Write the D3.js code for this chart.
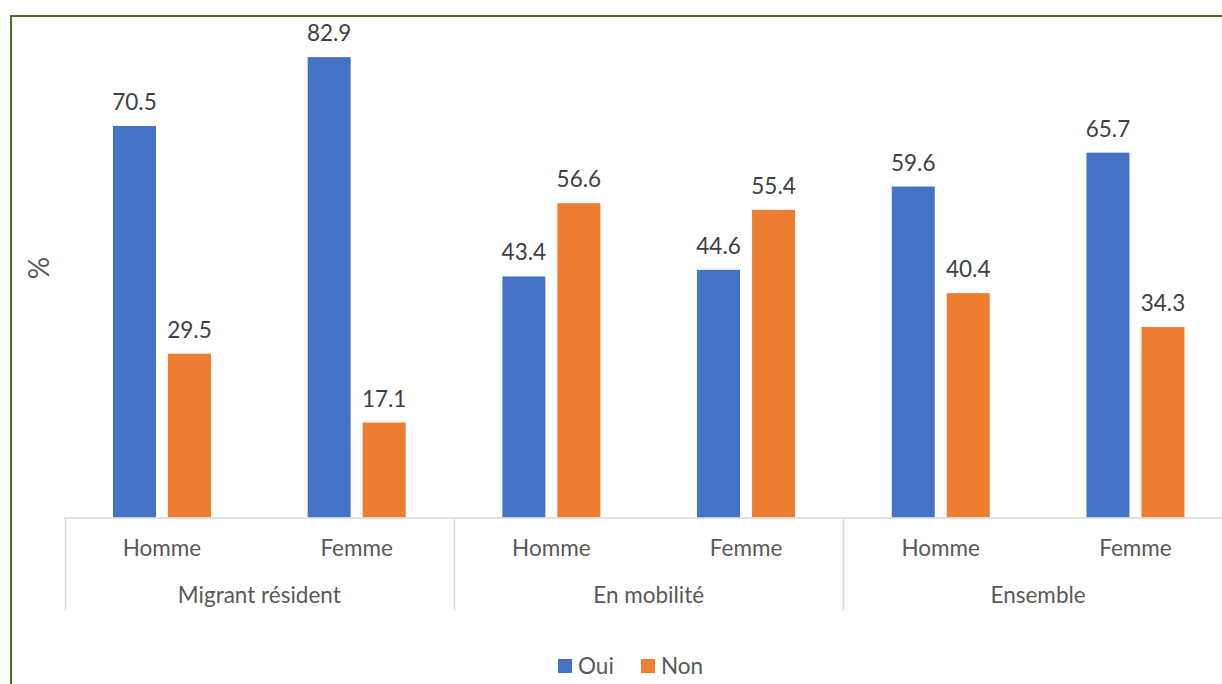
<!DOCTYPE html>
<html>
<head>
<meta charset="utf-8">
<script src="https://cdn.jsdelivr.net/npm/d3@7"></script>
<style>
  html, body { margin: 0; padding: 0; background: #ffffff; }
  svg { display: block; font-family: Lato, "Liberation Sans", sans-serif; }
</style>
</head>
<body>
<svg id="chart" width="1222" height="684"></svg>
<script>
// Groups and sub-categories along the x axis
const groups = ["Migrant résident", "En mobilité", "Ensemble"];
const sexes = ["Homme", "Femme"];
const seriesNames = ["Oui", "Non"];
// Percentages per bar, in order: group × sex
const oui = [70.5, 82.9, 43.4, 44.6, 59.6, 65.7];
const non = [29.5, 17.1, 56.6, 55.4, 40.4, 34.3];
const colors = ["#4472C4", "#ED7D31"];

const svg = d3.select("#chart");
const W = 1222, H = 684;
const fs = 22.5;

// Outer frame (runs past the right and bottom edges)
svg.append("path")
  .attr("d", `M11,${H + 5} L11,16 L${W + 5},16`)
  .attr("fill", "none")
  .attr("stroke", "#4d6d2b")
  .attr("stroke-width", 2);

const plotLeft = 64.6, plotRight = 1232.8, baseY = 517.5;
const cats = [];
groups.forEach(g => sexes.forEach(s => cats.push(g + "|" + s)));

const x0 = d3.scaleBand().domain(cats).range([plotLeft, plotRight]).paddingInner(0).paddingOuter(0);
const y = d3.scaleLinear().domain([0, 90]).range([baseY, baseY - 90 * 5.553]);

// Two bars per category: 43px each, 12px apart, centred
const barW = 43, gap = 12;
const x1 = d3.scaleOrdinal().domain(seriesNames).range([-(barW + gap / 2), gap / 2]);

const data = cats.map((c, i) => ({ cat: c, values: [
  { s: "Oui", v: oui[i] }, { s: "Non", v: non[i] } ] }));

const catG = svg.selectAll("g.cat").data(data).join("g")
  .attr("class", "cat")
  .attr("transform", d => `translate(${x0(d.cat) + x0.bandwidth() / 2},0)`);

catG.selectAll("rect").data(d => d.values).join("rect")
  .attr("x", d => x1(d.s))
  .attr("y", d => y(d.v))
  .attr("width", barW)
  .attr("height", d => y(0) - y(d.v))
  .attr("fill", (d, i) => colors[i]);

catG.selectAll("text.val").data(d => d.values).join("text")
  .attr("class", "val")
  .attr("x", d => x1(d.s) + barW / 2)
  .attr("y", d => y(d.v) - 16)
  .attr("text-anchor", "middle")
  .attr("font-size", fs)
  .attr("fill", "#404040")
  .text(d => d.v.toFixed(1));

// Category axis: baseline and group separators
const axisColor = "#d9d9d9";
svg.append("line")
  .attr("x1", plotLeft).attr("x2", W)
  .attr("y1", baseY + 0.5).attr("y2", baseY + 0.5)
  .attr("stroke", axisColor).attr("stroke-width", 1.5);

const sepX = d3.range(groups.length + 1).map(i => x0(cats[i * 2]) !== undefined ? x0(cats[i * 2]) : plotRight);
svg.selectAll("line.sep").data(sepX).join("line")
  .attr("class", "sep")
  .attr("x1", d => Math.round(d) + 0.5).attr("x2", d => Math.round(d) + 0.5)
  .attr("y1", baseY).attr("y2", 610)
  .attr("stroke", axisColor).attr("stroke-width", 1.5);

// Sub-category labels
svg.selectAll("text.sex").data(cats).join("text")
  .attr("class", "sex")
  .attr("x", d => x0(d) + x0.bandwidth() / 2)
  .attr("y", 556)
  .attr("text-anchor", "middle")
  .attr("font-size", fs)
  .attr("fill", "#595959")
  .text(d => d.split("|")[1]);

// Group labels
svg.selectAll("text.grp").data(groups).join("text")
  .attr("class", "grp")
  .attr("x", (d, i) => x0(cats[i * 2]) + x0.bandwidth())
  .attr("y", 603)
  .attr("text-anchor", "middle")
  .attr("font-size", fs)
  .attr("fill", "#595959")
  .text(d => d);

// Y axis title
svg.append("text")
  .attr("transform", "translate(49,268) rotate(-90)")
  .attr("text-anchor", "middle")
  .attr("font-size", 28)
  .attr("fill", "#595959")
  .text("%");

// Legend
const legend = [{ name: "Oui", x: 558 }, { name: "Non", x: 641 }];
const lg = svg.selectAll("g.leg").data(legend).join("g")
  .attr("class", "leg")
  .attr("transform", d => `translate(${d.x},659)`);
lg.append("rect").attr("width", 14).attr("height", 14)
  .attr("fill", (d, i) => colors[i]);
lg.append("text").attr("x", 20).attr("y", 15)
  .attr("font-size", fs).attr("fill", "#595959")
  .text(d => d.name);
</script>
</body>
</html>
